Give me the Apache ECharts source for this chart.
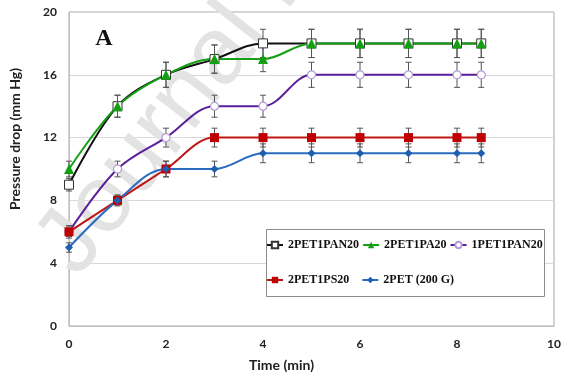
<!DOCTYPE html>
<html>
<head>
<meta charset="utf-8">
<script src="https://cdn.jsdelivr.net/npm/echarts@6/dist/echarts.min.js"></script>
<style>
html,body{margin:0;padding:0;background:#fff;}
#chart{width:575px;height:384px;}
</style>
</head>
<body>
<div id="chart"></div>
<script>
// ---- data ----
const times = [0, 1, 2, 3, 4, 5, 6, 7, 8, 8.5];
const seriesNames = ['2PET1PAN20', '2PET1PA20', '1PET1PAN20', '2PET1PS20', '2PET (200 G)'];
const v_2PET1PAN20 = [9, 14, 16, 17, 18, 18, 18, 18, 18, 18];
const v_2PET1PA20  = [10, 14, 16, 17, 17, 18, 18, 18, 18, 18];
const v_1PET1PAN20 = [6, 10, 12, 14, 14, 16, 16, 16, 16, 16];
const v_2PET1PS20  = [6, 8, 10, 12, 12, 12, 12, 12, 12, 12];
const v_2PET200G   = [5, 8, 10, 10, 11, 11, 11, 11, 11, 11];
const e_2PET1PAN20 = [0.4, 0.7, 0.8, 0.9, 0.9, 0.9, 0.9, 0.9, 0.9, 0.9];
const e_2PET1PA20  = [0.5, 0.7, 0.8, 0.9, 0.8, 0.9, 0.9, 0.9, 0.9, 0.9];
const e_1PET1PAN20 = [0.4, 0.5, 0.6, 0.7, 0.7, 0.8, 0.8, 0.8, 0.8, 0.8];
const e_2PET1PS20  = [0.3, 0.35, 0.5, 0.6, 0.6, 0.6, 0.6, 0.6, 0.6, 0.6];
const e_2PET200G   = [0.3, 0.3, 0.5, 0.5, 0.6, 0.6, 0.6, 0.6, 0.6, 0.6];
const xTicks = [0, 2, 4, 6, 8, 10];
const yTicks = [0, 4, 8, 12, 16, 20];

const values = [v_2PET1PAN20, v_2PET1PA20, v_1PET1PAN20, v_2PET1PS20, v_2PET200G];
const errors = [e_2PET1PAN20, e_2PET1PA20, e_1PET1PAN20, e_2PET1PS20, e_2PET200G];

const styles = [
  {line: '#111111', symbol: 'rect', size: 9, fill: '#ffffff', border: '#333333', bw: 1},
  {line: '#16a016', symbol: 'triangle', size: 10, fill: '#10a010', border: '#10a010', bw: 0},
  {line: '#5a1f9c', symbol: 'circle', size: 8, fill: '#ffffff', border: '#b59ad6', bw: 1.2},
  {line: '#c01515', symbol: 'rect', size: 9, fill: '#c00000', border: '#c00000', bw: 0},
  {line: '#2a6cc0', symbol: 'diamond', size: 8, fill: '#1f5fb0', border: '#1f5fb0', bw: 0}
];

const chart = echarts.init(document.getElementById('chart'), null, {renderer: 'canvas'});

const series = [];
values.forEach((vals, i) => {
  const st = styles[i];
  series.push({
    name: seriesNames[i],
    type: 'line',
    smooth: 0.35,
    z: 3,
    data: times.map((t, k) => [t, vals[k]]),
    symbol: st.symbol,
    symbolSize: st.size,
    lineStyle: {color: st.line, width: 2},
    itemStyle: {color: st.fill, borderColor: st.border, borderWidth: st.bw},
    color: st.line,
    emphasis: {disabled: true}
  });
});
values.forEach((vals, i) => {
  series.push({
    name: seriesNames[i] + ' err',
    type: 'custom',
    z: 2,
    silent: true,
    data: times.map((t, k) => [t, vals[k] - errors[i][k], vals[k] + errors[i][k]]),
    renderItem: function (params, api) {
      const x = api.value(0);
      const top = api.coord([x, api.value(2)]);
      const bot = api.coord([x, api.value(1)]);
      const hw = 3;
      const s = {stroke: '#555555', lineWidth: 1};
      return {type: 'group', children: [
        {type: 'line', shape: {x1: top[0], y1: top[1], x2: bot[0], y2: bot[1]}, style: s},
        {type: 'line', shape: {x1: top[0] - hw, y1: top[1], x2: top[0] + hw, y2: top[1]}, style: s},
        {type: 'line', shape: {x1: bot[0] - hw, y1: bot[1], x2: bot[0] + hw, y2: bot[1]}, style: s}
      ]};
    }
  });
});

const legendText = {fontFamily: 'Liberation Serif', fontWeight: 'bold', fontSize: 12, color: '#111'};
const axisFont = {fontFamily: 'Lato', fontWeight: 'bold', fontSize: 12, color: '#222'};

chart.setOption({
  animation: false,
  backgroundColor: '#ffffff',
  grid: {left: 66, right: 21, top: 12, bottom: 58, show: true, borderColor: '#a6a6a6', borderWidth: 1},
  xAxis: {
    type: 'value', min: xTicks[0], max: xTicks[xTicks.length - 1], interval: 2,
    name: 'Time (min)', nameLocation: 'middle', nameGap: 32,
    nameTextStyle: {fontFamily: 'Lato', fontWeight: 'bold', fontSize: 14, color: '#222', padding: [0, 60, 0, 0]},
    axisLine: {show: true, lineStyle: {color: '#bfbfbf'}},
    axisTick: {show: false},
    splitLine: {show: false},
    axisLabel: Object.assign({margin: 12}, axisFont)
  },
  yAxis: {
    type: 'value', min: yTicks[0], max: yTicks[yTicks.length - 1], interval: 4,
    name: 'Pressure drop (mm Hg)', nameLocation: 'middle', nameGap: 47,
    nameTextStyle: {fontFamily: 'Lato', fontWeight: 'bold', fontSize: 14, color: '#222', padding: [0, 0, 0, 60]},
    axisLine: {show: true, lineStyle: {color: '#bfbfbf'}},
    axisTick: {show: false},
    splitLine: {show: true, lineStyle: {color: '#d9d9d9', width: 1}},
    axisLabel: Object.assign({margin: 12}, axisFont)
  },
  legend: [
    {data: seriesNames.slice(0, 3), left: 266, top: 239, padding: 0, itemWidth: 16, itemHeight: 8, itemGap: 3,
     textStyle: legendText, z: 10, selectedMode: false},
    {data: seriesNames.slice(3), left: 266, top: 274, padding: 0, itemWidth: 16, itemHeight: 8, itemGap: 12,
     textStyle: legendText, z: 10, selectedMode: false}
  ],
  graphic: [
    {type: 'text', x: 57, y: 263, rotation: 0.908, z: 1, silent: true,
     style: {text: 'Journal Pre-proof', fontFamily: 'Liberation Sans', fontSize: 95, fill: '#e3e3e3',
             textAlign: 'left', textVerticalAlign: 'middle'}},
    {type: 'rect', shape: {x: 266.5, y: 229.5, width: 278, height: 67}, z: 5, silent: true,
     style: {fill: '#ffffff', stroke: '#8c8c8c', lineWidth: 1}},
    {type: 'text', x: 104, y: 39, z: 6, silent: true,
     style: {text: 'A', fontFamily: 'Liberation Serif', fontWeight: 'bold', fontSize: 24, fill: '#111',
             textAlign: 'center', textVerticalAlign: 'middle'}}
  ],
  series: series
});
</script>
</body>
</html>
